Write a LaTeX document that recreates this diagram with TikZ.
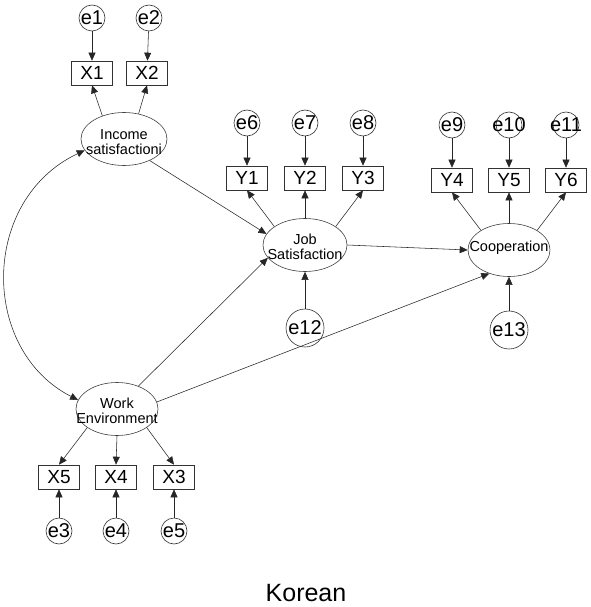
\documentclass[tikz,border=0pt]{standalone}
\usepackage{fontspec}
\setmainfont{Liberation Sans}
\usetikzlibrary{arrows.meta,shapes.geometric}
\begin{document}
\begin{tikzpicture}[x=1pt,y=-1pt,
  lat/.style={draw=black!75, ellipse, minimum width=#1, minimum height=53pt, inner sep=0pt, line width=0.6pt},
  lat/.default=84pt,
  lattext/.style={font=\fontsize{14.5}{15}\selectfont, align=center, inner sep=0pt},
  obs/.style={draw=black!80, rectangle, minimum width=41pt, minimum height=24pt, inner sep=0pt, line width=0.6pt, font=\fontsize{19}{19}\selectfont},
  err/.style={draw=black!80, circle, minimum size=#1, inner sep=0pt, line width=0.6pt},
  err/.default=26pt,
  errtext/.style={font=\fontsize{20}{20}\selectfont, inner sep=0pt},
  arr/.style={-{Triangle[length=8pt,width=7pt]}, line width=0.55pt, draw=black!85},
  dbl/.style={{Triangle[length=8pt,width=7pt]}-{Triangle[length=8pt,width=7pt]}, line width=0.55pt, draw=black!85}
]
\useasboundingbox (0,0) rectangle (590,607);
% latent variables
\node[lat=86pt] (inc) at (124,139) {};
\node[lattext] (inct) at (124,142) {Income\\satisfactioni};
\node[lat] (job) at (305,245) {};
\node[lattext] (jobt) at (305,247) {Job\\Satisfaction};
\node[lat=82pt] (coop) at (509,250) {};
\node[lattext] (coopt) at (509,248) {Cooperation};
\node[lat=82pt] (work) at (117,409) {};
\node[lattext] (workt) at (117,411) {Work\\Environment};
% observed
\node[obs] (X1) at (92,73) {X1};
\node[obs] (X2) at (147,73) {X2};
\node[obs] (Y1) at (247,178) {Y1};
\node[obs] (Y2) at (305,178) {Y2};
\node[obs] (Y3) at (363,178) {Y3};
\node[obs] (Y4) at (452,180) {Y4};
\node[obs] (Y5) at (509,180) {Y5};
\node[obs] (Y6) at (566,180) {Y6};
\node[obs] (X5) at (59,477) {X5};
\node[obs] (X4) at (116,477) {X4};
\node[obs] (X3) at (174,477) {X3};
% errors
\node[err] (e1) at (92,18) {};   \node[errtext] (e1t) at (e1) {e1};
\node[err] (e2) at (149,18) {};  \node[errtext] (e2t) at (e2) {e2};
\node[err] (e6) at (247,123) {}; \node[errtext] (e6t) at (e6) {e6};
\node[err] (e7) at (305,123) {}; \node[errtext] (e7t) at (e7) {e7};
\node[err] (e8) at (363,123) {}; \node[errtext] (e8t) at (e8) {e8};
\node[err] (e9) at (452,125) {}; \node[errtext] (e9t) at (e9) {e9};
\node[err] (e10) at (509,125) {}; \node[errtext] (e10t) at (e10) {e10};
\node[err] (e11) at (566,125) {}; \node[errtext] (e11t) at (e11) {e11};
\node[err=38pt] (e12) at (305,328) {}; \node[errtext] (e12t) at (e12) {e12};
\node[err=38pt] (e13) at (509,330) {}; \node[errtext] (e13t) at (e13) {e13};
\node[err] (e3) at (59,531) {};  \node[errtext] (e3t) at (e3) {e3};
\node[err] (e4) at (116,531) {}; \node[errtext] (e4t) at (e4) {e4};
\node[err] (e5) at (174,531) {}; \node[errtext] (e5t) at (e5) {e5};
% title
\node[font=\fontsize{25}{25}\selectfont, anchor=base, inner sep=0pt] (title) at (306,601) {Korean};
% error arrows
\foreach \e/\v in {e1/X1,e2/X2,e6/Y1,e7/Y2,e8/Y3,e9/Y4,e10/Y5,e11/Y6,e3/X5,e4/X4,e5/X3}
  \draw[arr] (\e) -- (\v);
\draw[arr] (e12) -- (job);
\draw[arr] (e13) -- (coop);
% loadings
\draw[arr] (inc.133) -- (X1.south);
\draw[arr] (inc.60) -- (X2.south);
\draw[arr] (job.149) -- (Y1.south);
\draw[arr] (job.90) -- (Y2.south);
\draw[arr] (job.31) -- (Y3.south);
\draw[arr] (coop.145) -- (Y4.south);
\draw[arr] (coop.90) -- (Y5.south);
\draw[arr] (coop.35) -- (Y6.south);
\draw[arr] (work.-148) -- (X5.north);
\draw[arr] (work.-90) -- (X4.north);
\draw[arr] (work.-32) -- (X3.north);
% structural
\draw[arr] (inc.-40) -- (job.164);
\draw[arr] (work.47) -- (job.199);
\draw[arr] (work.10) -- (coop.230);
\draw[arr] (job.east) -- (coop.west);
\draw[dbl] (inc.196) .. controls (-20,200) and (-20,350) .. (work.167);
\end{tikzpicture}
\end{document}
